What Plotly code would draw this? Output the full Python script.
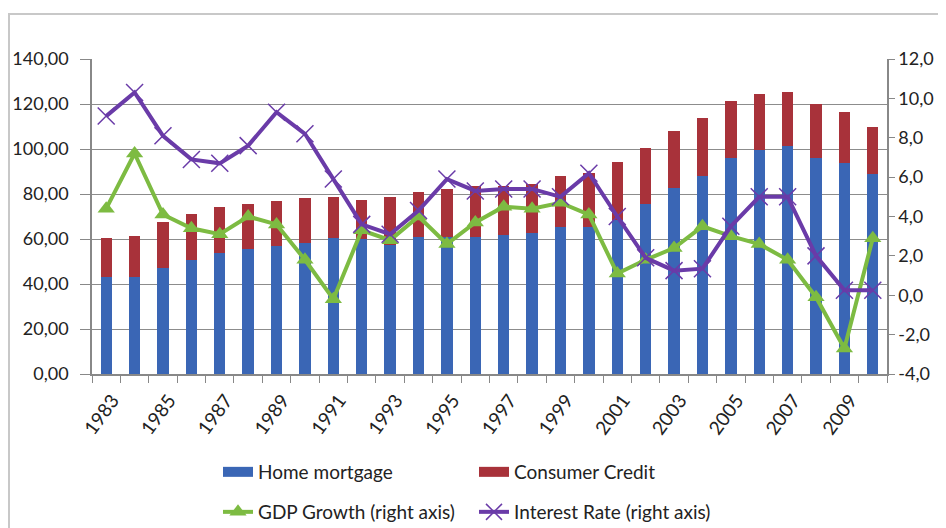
import plotly.graph_objects as go

years = [str(y) for y in range(1983, 2011)]
home_mortgage = [43.0, 43.0, 47.1, 50.7, 53.6, 55.5, 57.0, 58.4, 60.6, 59.9,
                 57.3, 61.0, 61.0, 61.0, 61.8, 62.5, 65.5, 65.5, 68.4, 75.6,
                 82.5, 88.1, 95.9, 99.6, 101.5, 95.9, 93.6, 88.7]
consumer_credit = [17.3, 18.3, 20.4, 20.4, 20.5, 19.9, 19.7, 19.8, 18.2, 17.4,
                   21.5, 19.7, 21.2, 22.6, 21.7, 21.8, 22.5, 23.7, 26.0, 24.7,
                   25.5, 25.5, 25.4, 24.7, 24.0, 24.1, 22.7, 21.2]
gdp_growth = [4.4, 7.2, 4.1, 3.4, 3.1, 4.0, 3.6, 1.8, -0.2, 3.3,
              2.8, 4.0, 2.6, 3.7, 4.5, 4.4, 4.7, 4.1, 1.1, 1.8,
              2.4, 3.5, 3.0, 2.6, 1.8, -0.1, -2.7, 2.9]
interest_rate = [9.1, 10.3, 8.1, 6.9, 6.7, 7.6, 9.3, 8.2, 5.9, 3.6,
                 3.1, 4.3, 5.9, 5.3, 5.4, 5.4, 5.0, 6.2, 4.0, 1.9,
                 1.25, 1.35, 3.5, 5.0, 5.0, 2.0, 0.25, 0.25]

left_ticks = [0, 20, 40, 60, 80, 100, 120, 140]
left_labels = ["0,00", "20,00", "40,00", "60,00", "80,00", "100,00", "120,00", "140,00"]
right_ticks = [-4, -2, 0, 2, 4, 6, 8, 10, 12]
right_labels = ["-4,0", "-2,0", "0,0", "2,0", "4,0", "6,0", "8,0", "10,0", "12,0"]
year_labels = [y if int(y) % 2 == 1 else "" for y in years]

BLUE = "#3A66B5"
RED = "#A8323A"
GREEN = "#7DBB42"
PURPLE = "#6A3BA8"
FONT = "Lato, Open Sans, sans-serif"

# the page body has an 8px margin, so the figure is 8px smaller each way
W, H = 938, 520

fig = go.Figure()
fig.add_trace(go.Bar(x=years, y=home_mortgage, name="Home mortgage", showlegend=False,
                     marker=dict(color=BLUE, line=dict(width=0))))
fig.add_trace(go.Bar(x=years, y=consumer_credit, name="Consumer Credit", showlegend=False,
                     marker=dict(color=RED, line=dict(width=0))))
fig.add_trace(go.Scatter(x=years, y=gdp_growth, name="GDP Growth (right axis)", yaxis="y2",
                         mode="lines+markers", line=dict(color=GREEN, width=4),
                         marker=dict(symbol="triangle-up", size=15, color=GREEN),
                         legend="legend2"))
fig.add_trace(go.Scatter(x=years, y=interest_rate, name="Interest Rate (right axis)", yaxis="y2",
                         mode="lines+markers", line=dict(color=PURPLE, width=4),
                         marker=dict(symbol="x-thin-open", size=17,
                                     line=dict(color="#8A6BC8", width=1.5)),
                         legend="legend2"))
# wide rectangular legend keys for the bar series (no visible points)
fig.add_trace(go.Scatter(x=[years[0]], y=[None], name="Home mortgage", mode="lines",
                         line=dict(color=BLUE, width=10), legend="legend"))
fig.add_trace(go.Scatter(x=[years[0]], y=[None], name="Consumer Credit", mode="lines",
                         line=dict(color=RED, width=10), legend="legend"))

legend_common = dict(orientation="h", xref="container", yref="container",
                     xanchor="left", yanchor="middle", entrywidth=211,
                     font=dict(family=FONT, size=19, color="#222"),
                     traceorder="normal", bgcolor="rgba(0,0,0,0)")

fig.update_layout(
    width=W, height=H,
    margin=dict(l=84, r=59, t=51, b=154),
    paper_bgcolor="white", plot_bgcolor="white",
    barmode="stack", bargap=0.6,
    font=dict(family=FONT, size=16, color="#222"),
    xaxis=dict(type="category", tickvals=years, ticktext=year_labels, tickangle=-54,
               range=[-0.5, len(years) - 0.5], ticklabelshift=6, ticklabelstandoff=6,
               tickson="boundaries", ticks="outside", ticklen=7, tickcolor="#888",
               showline=True, linecolor="#888", linewidth=1.5, showgrid=False,
               automargin=False, tickfont=dict(size=19)),
    yaxis=dict(range=[0, 140], tickvals=left_ticks, ticktext=left_labels,
               ticks="outside", ticklen=10, tickcolor="#888", ticklabelstandoff=8,
               showline=True, linecolor="#888", linewidth=1.5,
               gridcolor="#8c8c8c", gridwidth=1.3, zeroline=False,
               automargin=False, tickfont=dict(size=18)),
    yaxis2=dict(range=[-4, 12], tickvals=right_ticks, ticktext=right_labels,
                overlaying="y", side="right", ticks="outside", ticklen=6, tickcolor="#888",
                showline=True, linecolor="#888", linewidth=1.5, showgrid=False, zeroline=False,
                automargin=False, tickfont=dict(size=18)),
    legend=dict(x=210 / W, y=1 - 464 / H, **legend_common),
    legend2=dict(x=210 / W, y=1 - 504 / H, **legend_common),
    shapes=[dict(type="rect", xref="paper", yref="paper", x0=(1 - 84) / 795, x1=1.2,
                 y0=-0.7, y1=1 + 45 / 315, line=dict(color="#c8c8c8", width=2), layer="below")],
)

fig.write_html("out.html")
